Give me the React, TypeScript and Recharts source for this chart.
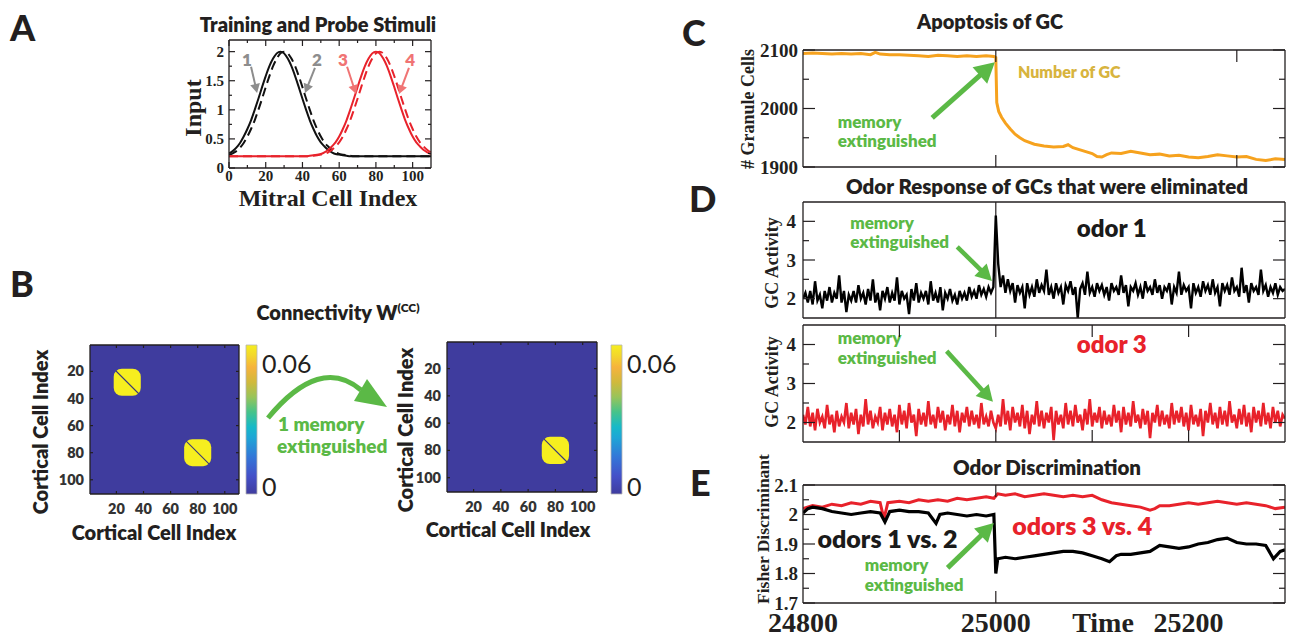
import React from 'react';
import {
  ComposedChart, BarChart, Bar, Line, Scatter, XAxis, YAxis, CartesianGrid,
  ReferenceLine, ReferenceArea, ReferenceDot,
} from 'recharts';

const SANS = 'Lato, "Open Sans", "DejaVu Sans", sans-serif';
const SERIF = '"Liberation Serif", "DejaVu Serif", serif';
const INK = '#231f20';
const GREEN = '#5bb946';
const RED = '#e8222b';
const ORANGE = '#f6a21e';
const GOLD = '#d8b43e';
const PINK = '#f07474';
const GREY = '#8d8d8d';
const PARULA_LOW = '#3f3c9e';
const PARULA_HIGH = '#f6ee1f';

// ---- A: training and probe stimuli
const mitralIndex = [0, 2, 4, 6, 8, 10, 12, 14, 16, 18, 20, 22, 24, 26, 28, 30, 32, 34, 36, 38, 40, 42, 44, 46, 48, 50, 52, 54, 56, 58, 60, 62, 64, 66, 68, 70, 72, 74, 76, 78, 80, 82, 84, 86, 88, 90, 92, 94, 96, 98, 100, 102, 104, 106, 108, 110];
const stimulus1 = [0.25, 0.29, 0.35, 0.43, 0.54, 0.67, 0.82, 1.0, 1.19, 1.39, 1.58, 1.75, 1.88, 1.97, 2.0, 1.97, 1.88, 1.75, 1.58, 1.39, 1.19, 1.0, 0.82, 0.67, 0.54, 0.44, 0.37, 0.31, 0.27, 0.24, 0.23, 0.22, 0.21,
  0.2, 0.2, 0.2, 0.2, 0.2, 0.2, 0.2, 0.2, 0.2, 0.2, 0.2, 0.2, 0.2, 0.2, 0.2, 0.2, 0.2, 0.2, 0.2, 0.2, 0.2, 0.2, 0.2];
const stimulus2 = [0.22, 0.25, 0.29, 0.35, 0.43, 0.54, 0.67, 0.82, 1.0, 1.19, 1.39, 1.58, 1.75, 1.88, 1.97, 2.0, 1.97, 1.88, 1.75, 1.58, 1.39, 1.19, 1.0, 0.82, 0.67, 0.54, 0.44, 0.37, 0.31, 0.27, 0.24, 0.23, 0.22, 0.21,
  0.2, 0.2, 0.2, 0.2, 0.2, 0.2, 0.2, 0.2, 0.2, 0.2, 0.2, 0.2, 0.2, 0.2, 0.2, 0.2, 0.2, 0.2, 0.2, 0.2, 0.2, 0.2];
const stimulus3 = [0.2, 0.2, 0.2, 0.2, 0.2, 0.2, 0.2, 0.2, 0.2, 0.2, 0.2, 0.2, 0.2, 0.2, 0.2, 0.2, 0.2, 0.2, 0.2, 0.2, 0.2, 0.2,
  0.21, 0.22, 0.23, 0.24, 0.27, 0.31, 0.37, 0.44, 0.54, 0.67, 0.82, 1.0, 1.19, 1.39, 1.58, 1.75, 1.88, 1.97, 2.0,
  1.97, 1.88, 1.75, 1.58, 1.39, 1.19, 1.0, 0.82, 0.67, 0.54, 0.44, 0.37, 0.31, 0.27, 0.24];
const stimulus4 = [0.2, 0.2, 0.2, 0.2, 0.2, 0.2, 0.2, 0.2, 0.2, 0.2, 0.2, 0.2, 0.2, 0.2, 0.2, 0.2, 0.2, 0.2, 0.2, 0.2, 0.2, 0.2, 0.2,
  0.21, 0.22, 0.23, 0.24, 0.27, 0.31, 0.37, 0.44, 0.54, 0.67, 0.82, 1.0, 1.19, 1.39, 1.58, 1.75, 1.88, 1.97, 2.0,
  1.97, 1.88, 1.75, 1.58, 1.39, 1.19, 1.0, 0.82, 0.67, 0.54, 0.44, 0.37, 0.31, 0.27];
const mitralTicks = [0, 10, 20, 30, 40, 50, 60, 70, 80, 90, 100];
const mitralMajor = [0, 20, 40, 60, 80, 100];
const inputTicks = [0, 0.25, 0.5, 0.75, 1, 1.25, 1.5, 1.75, 2];
const inputMajor = [0, 0.5, 1, 1.5, 2];

// ---- B: connectivity before / after
const cellTicks = [20, 40, 60, 80, 100];
const memoriesBefore = [28, 80];
const memoriesAfter = [80];
const memoryHalfWidth = 10;
const weightRange = [0, 0.06];

// ---- C: apoptosis
const apoptosisTime = [24800, 24810, 24820, 24830, 24840, 24850, 24860, 24870, 24875, 24880, 24890, 24900, 24910, 24920, 24930, 24940, 24950, 24960, 24970, 24980, 24990, 24998,
  25000, 25001, 25003, 25006, 25010, 25015, 25020, 25025, 25030, 25040, 25050, 25060, 25070, 25075, 25080, 25090, 25100, 25105, 25110, 25115, 25120, 25130, 25140, 25150,
  25160, 25170, 25180, 25190, 25200, 25210, 25220, 25230, 25240, 25250, 25260, 25270, 25280, 25290, 25300];
const granuleCount = [2094, 2095, 2094, 2093, 2094, 2093, 2094, 2092, 2096, 2093, 2092, 2092, 2091, 2090, 2089, 2091, 2090, 2089, 2090, 2089, 2090, 2089,
  2087, 2010, 1995, 1985, 1975, 1965, 1956, 1950, 1945, 1939, 1936, 1934, 1935, 1938, 1933, 1928, 1923, 1918, 1917, 1921, 1924, 1923, 1927, 1924,
  1921, 1922, 1919, 1920, 1917, 1916, 1918, 1921, 1919, 1917, 1918, 1913, 1911, 1914, 1913];
const timeDomain = [24800, 25300];

// ---- D: odor response of eliminated GCs (one sample every 2.5 time steps from 24800)
const responseStart = 24800;
const responseStep = 2.5;
const odor1Activity = [
  2.0, 2.15, 1.9, 2.2, 1.85, 2.45, 1.95, 2.1, 1.75, 2.2,
  1.95, 2.3, 1.9, 2.15, 2.0, 2.6, 1.9, 2.2, 1.65, 2.1,
  1.95, 2.2, 1.9, 2.35, 2.0, 2.15, 1.85, 2.25, 1.95, 2.5,
  1.9, 2.15, 1.7, 2.2, 2.0, 2.3, 1.9, 2.15, 1.95, 2.55,
  1.85, 2.2, 2.0, 2.1, 1.6, 2.25, 1.95, 2.4, 1.9, 2.15,
  2.0, 2.2, 1.85, 2.45, 1.95, 2.15, 1.9, 2.3, 1.7, 2.15,
  2.0, 2.25, 1.95, 2.1, 1.85, 2.2, 2.0, 2.15, 1.95, 2.3,
  2.05, 2.2, 2.0, 2.35, 2.1, 2.25, 2.05, 2.3, 2.15, 2.3,
  4.15,
  2.9, 2.3, 2.6, 2.15, 2.5, 2.2, 2.4, 1.9, 2.35, 2.15,
  2.3, 1.75, 2.4, 2.1, 2.3, 2.05, 2.5, 2.15, 2.35, 2.2,
  2.75, 2.1, 2.3, 2.0, 2.4, 2.15, 2.3, 1.85, 2.35, 2.2,
  2.45, 2.1, 2.3, 1.5, 2.25, 2.4, 2.1, 2.7, 2.15, 2.3,
  2.05, 2.4, 2.2, 2.35, 2.1, 2.3, 1.95, 2.4, 2.2, 2.3,
  2.1, 2.6, 2.15, 2.35, 1.8, 2.3, 2.2, 2.4, 2.1, 2.3,
  2.0, 2.45, 2.2, 2.3, 2.1, 2.5, 2.15, 2.35, 2.0, 2.3,
  2.2, 2.4, 1.85, 2.3, 2.15, 2.7, 2.1, 2.35, 2.2, 2.3,
  1.75, 2.4, 2.15, 2.3, 2.05, 2.45, 2.2, 2.35, 2.1, 2.5,
  2.15, 2.3, 1.8, 2.4, 2.2, 2.35, 2.1, 2.55, 2.2, 2.3,
  2.05, 2.8, 2.15, 2.35, 1.9, 2.4, 2.2, 2.3, 2.1, 2.75,
  2.2, 2.35, 2.05, 2.3, 2.15, 2.4, 2.1, 2.3, 2.2, 2.25];
const odor3Activity = [
  2.2, 1.95, 2.4, 1.9, 2.25, 1.8, 2.35, 2.0, 2.15, 1.85,
  2.45, 1.95, 2.2, 1.75, 2.3, 1.9, 2.15, 2.0, 2.5, 1.85,
  2.25, 1.95, 2.35, 1.7, 2.2, 1.9, 2.6, 1.95, 2.3, 1.85,
  2.15, 2.0, 2.4, 1.8, 2.25, 1.95, 2.35, 1.9, 2.2, 1.75,
  2.45, 1.95, 2.3, 1.85, 2.5, 2.0, 2.2, 1.65, 2.35, 1.95,
  2.25, 1.9, 2.55, 1.95, 2.2, 1.85, 2.4, 2.0, 2.3, 1.8,
  2.2, 1.95, 2.45, 1.9, 2.3, 1.75, 2.25, 2.0, 2.4, 1.9,
  2.3, 1.95, 2.2, 1.85, 2.5, 1.95, 2.15, 1.9, 2.3, 2.0,
  1.85,
  2.2, 1.9, 2.6, 1.95, 2.3, 1.8, 2.4, 2.0, 2.25, 1.9,
  2.45, 1.85, 2.3, 1.7, 2.2, 1.95, 2.55, 1.9, 2.3, 1.85,
  2.25, 2.0, 2.4, 1.55, 2.3, 1.95, 2.2, 1.85, 2.5, 1.95,
  2.3, 1.9, 2.45, 2.0, 2.2, 1.8, 2.35, 1.95, 2.6, 1.9,
  2.25, 2.0, 2.4, 1.85, 2.3, 1.95, 2.2, 1.9, 2.45, 2.0,
  2.3, 1.75, 2.4, 1.95, 2.25, 1.9, 2.55, 2.0, 2.2, 1.85,
  2.35, 1.95, 2.3, 1.6, 2.25, 2.0, 2.45, 1.9, 2.3, 1.95,
  2.2, 1.85, 2.5, 1.95, 2.3, 2.0, 2.4, 1.9, 2.25, 1.8,
  2.45, 1.95, 2.2, 1.9, 2.35, 1.65, 2.3, 2.0, 2.5, 1.95,
  2.25, 1.85, 2.4, 1.95, 2.3, 1.9, 2.55, 2.0, 2.2, 1.85,
  2.35, 1.95, 2.45, 1.9, 2.25, 1.75, 2.4, 2.0, 2.3, 1.9,
  2.5, 1.95, 2.25, 1.85, 2.4, 2.0, 2.3, 1.9, 2.2, 2.1];
const activityTicks = [2, 2.5, 3, 3.5, 4];
const activityMajor = [2, 3, 4];

// ---- E: odor discrimination
const fisherTime12 = [24800, 24805, 24810, 24820, 24830, 24840, 24850, 24860, 24870, 24880, 24885, 24890, 24900, 24910, 24920, 24930, 24938, 24942, 24950, 24960, 24970, 24980, 24990, 24998,
  25000, 25002, 25010, 25020, 25030, 25040, 25050, 25060, 25070, 25080, 25090, 25100, 25110, 25118, 25125, 25130, 25140, 25150, 25160, 25170, 25180, 25190, 25200,
  25210, 25220, 25230, 25240, 25250, 25260, 25270, 25280, 25288, 25295, 25300];
const fisher12 = [2.005, 2.02, 2.025, 2.02, 2.01, 2.005, 2.0, 2.005, 2.01, 2.005, 1.975, 2.01, 2.015, 2.01, 2.01, 2.005, 1.97, 2.0, 2.005, 2.0, 1.995, 2.0, 1.995, 2.0,
  1.8, 1.85, 1.855, 1.85, 1.855, 1.86, 1.865, 1.87, 1.875, 1.875, 1.87, 1.86, 1.85, 1.84, 1.86, 1.865, 1.865, 1.87, 1.875, 1.895, 1.89, 1.885, 1.89,
  1.9, 1.905, 1.915, 1.92, 1.905, 1.9, 1.9, 1.895, 1.85, 1.875, 1.88];
const fisherTime34 = [24800, 24810, 24820, 24830, 24840, 24850, 24860, 24870, 24880, 24884, 24888, 24900, 24910, 24920, 24930, 24940, 24950, 24960, 24970, 24980, 24990, 24998,
  25002, 25010, 25020, 25030, 25040, 25050, 25060, 25070, 25080, 25090, 25100, 25110, 25120, 25130, 25140, 25150, 25160, 25165, 25170, 25180, 25190, 25200,
  25210, 25220, 25230, 25240, 25250, 25260, 25270, 25280, 25290, 25300];
const fisher34 = [2.02, 2.03, 2.025, 2.035, 2.03, 2.04, 2.035, 2.045, 2.04, 1.985, 2.04, 2.045, 2.04, 2.05, 2.045, 2.05, 2.045, 2.055, 2.05, 2.055, 2.06, 2.055,
  2.07, 2.065, 2.07, 2.06, 2.065, 2.07, 2.065, 2.06, 2.065, 2.06, 2.065, 2.05, 2.04, 2.035, 2.03, 2.025, 2.015, 2.02, 2.03, 2.03, 2.035, 2.04,
  2.035, 2.04, 2.045, 2.04, 2.035, 2.04, 2.035, 2.03, 2.02, 2.025];
const fisherTicks = [1.7, 1.75, 1.8, 1.85, 1.9, 1.95, 2, 2.05, 2.1];
const fisherMajor = [1.7, 1.8, 1.9, 2, 2.1];
const timeLabels = [24800, 25000, 25200];

// ---------------------------------------------------------------
type Side = 'left' | 'right' | 'top' | 'bottom';
interface TickSpec {
  side: Side;
  major: number[];
  len: number;
  minorLen?: number;
  labels?: number[];
  fmt?: (v: number) => string;
  size?: number;
  family?: string;
  weight?: number;
  color?: string;
  gap?: number;
  dy?: (v: number) => number;
  bare?: number[];
}

function tickRenderer(s: TickSpec) {
  return (p: any) => {
    const x = Number(p.x);
    const y = Number(p.y);
    const v = Number(p.payload && p.payload.value);
    const isMajor = s.major.indexOf(v) >= 0;
    const L = s.bare && s.bare.indexOf(v) >= 0 ? 0 : isMajor ? s.len : s.minorLen || 0;
    const size = s.size || 14;
    const gap = s.gap ?? 5;
    let line: React.ReactNode = null;
    if (L > 0) {
      const d = s.side === 'left' ? [L, 0] : s.side === 'right' ? [-L, 0] : s.side === 'top' ? [0, L] : [0, -L];
      line = <line x1={x} y1={y} x2={x + d[0]} y2={y + d[1]} stroke={INK} strokeWidth={1.2} />;
    }
    let label: React.ReactNode = null;
    if (s.labels && s.labels.indexOf(v) >= 0) {
      const text = s.fmt ? s.fmt(v) : String(v);
      const extra = s.dy ? s.dy(v) : 0;
      const st = { fontFamily: s.family || SERIF, fontSize: size, fontWeight: s.weight ?? 700, fill: s.color || INK };
      if (s.side === 'left') label = <text x={x - gap} y={y + size * 0.35 + extra} textAnchor="end" {...st}>{text}</text>;
      else if (s.side === 'right') label = <text x={x + gap} y={y + size * 0.35 + extra} textAnchor="start" {...st}>{text}</text>;
      else if (s.side === 'bottom') label = <text x={x} y={y + gap + size * 0.72 + extra} textAnchor="middle" {...st}>{text}</text>;
    }
    return <g>{line}{label}</g>;
  };
}

const PAD = { l: 62, r: 12, t: 12, b: 42 };
const ZERO = { top: 0, right: 0, bottom: 0, left: 0 };

interface FrameSpec {
  xKey?: string;
  xDomain: number[];
  yDomain: number[];
  reversed?: boolean;
  xTicks: number[];
  xTicksTop?: number[];
  yTicks: number[];
  bottom: TickSpec;
  top: TickSpec;
  left: TickSpec;
  right: TickSpec;
  yKey?: string;
}

function frame(f: FrameSpec) {
  const axisLine = { stroke: INK, strokeWidth: 1.3 };
  return [
    <XAxis key="xb" type="number" dataKey={f.xKey} domain={f.xDomain} ticks={f.xTicks} tick={tickRenderer(f.bottom)}
      tickSize={0} tickMargin={0} tickLine={false} interval={0} allowDataOverflow axisLine={axisLine} height={PAD.b} />,
    <XAxis key="xt" xAxisId="top" orientation="top" type="number" dataKey={f.xKey} domain={f.xDomain} ticks={f.xTicksTop || f.xTicks}
      tick={tickRenderer(f.top)} tickSize={0} tickMargin={0} tickLine={false} interval={0} allowDataOverflow axisLine={axisLine} height={PAD.t} />,
    <YAxis key="yl" type="number" dataKey={f.yKey} domain={f.yDomain} reversed={f.reversed} ticks={f.yTicks} tick={tickRenderer(f.left)}
      tickSize={0} tickMargin={0} tickLine={false} interval={0} allowDataOverflow axisLine={axisLine} width={PAD.l} />,
    <YAxis key="yr" yAxisId="right" orientation="right" type="number" dataKey={f.yKey} domain={f.yDomain} reversed={f.reversed} ticks={f.yTicks}
      tick={tickRenderer(f.right)} tickSize={0} tickMargin={0} tickLine={false} interval={0} allowDataOverflow axisLine={axisLine} width={PAD.r} />,
  ];
}

type Box = { x: number; y: number; w: number; h: number };
function place(b: Box): React.CSSProperties {
  return { position: 'absolute', left: b.x - PAD.l, top: b.y - PAD.t };
}
const cw = (b: Box) => b.w + PAD.l + PAD.r;
const ch = (b: Box) => b.h + PAD.t + PAD.b;

function arrowShape(color: string, width: number, head: number) {
  return (p: any) => {
    const x1 = Number(p.x1), y1 = Number(p.y1), x2 = Number(p.x2), y2 = Number(p.y2);
    const dx = x2 - x1, dy = y2 - y1;
    const len = Math.hypot(dx, dy) || 1;
    const ux = dx / len, uy = dy / len;
    const bx = x2 - ux * head, by = y2 - uy * head;
    const hw = head * 0.55;
    const pts = `${x2},${y2} ${bx - uy * hw},${by + ux * hw} ${bx + uy * hw},${by - ux * hw}`;
    return (
      <g>
        <line x1={x1} y1={y1} x2={bx + ux * 2} y2={by + uy * 2} stroke={color} strokeWidth={width} />
        <polygon points={pts} fill={color} />
      </g>
    );
  };
}

function arrow(key: string, from: number[], to: number[], color: string, width: number, head: number) {
  return (
    <ReferenceLine key={key} segment={[{ x: from[0], y: from[1] }, { x: to[0], y: to[1] }]} ifOverflow="visible"
      shape={arrowShape(color, width, head)} />
  );
}

function note(key: string, x: number, y: number, text: string, size: number, color: string, dy = 0, anchor = 'start') {
  return (
    <ReferenceDot key={key} x={x} y={y} r={0} ifOverflow="visible"
      shape={(p: any) => (
        <text x={p.cx} y={Number(p.cy) + dy} textAnchor={anchor} fontFamily={SANS} fontSize={size} fontWeight={800} fill={color}>{text}</text>
      )} />
  );
}

// ---------------------------------------------------------------
const boxA: Box = { x: 229, y: 40, w: 202, h: 128 };
function PanelA() {
  const rows = mitralIndex.map((x, i) => ({ x, s1: stimulus1[i], s2: stimulus2[i], s3: stimulus3[i], s4: stimulus4[i] }));
  const sp = { major: inputMajor, len: 6, minorLen: 3 };
  const xp = { major: mitralMajor, len: 6, minorLen: 3 };
  return (
    <div style={place(boxA)}>
      <ComposedChart width={cw(boxA)} height={ch(boxA)} margin={ZERO} data={rows}>
        {frame({
          xKey: 'x', xDomain: [0, 110], yDomain: [0, 2.2], xTicks: mitralTicks, yTicks: inputTicks,
          bottom: { side: 'bottom', ...xp, labels: mitralMajor, size: 15, gap: 2 },
          top: { side: 'top', ...xp },
          left: { side: 'left', ...sp, labels: inputMajor, size: 15, gap: 5 },
          right: { side: 'right', ...sp },
        })}
        <Line dataKey="s1" type="monotone" stroke="#111" strokeWidth={2} dot={false} isAnimationActive={false} />
        <Line dataKey="s2" type="monotone" stroke="#111" strokeWidth={2} strokeDasharray="9 5" dot={false} isAnimationActive={false} />
        <Line dataKey="s3" type="monotone" stroke={RED} strokeWidth={2} dot={false} isAnimationActive={false} />
        <Line dataKey="s4" type="monotone" stroke={RED} strokeWidth={2} strokeDasharray="9 5" dot={false} isAnimationActive={false} />
        {arrow('a1', [12, 1.74], [15.3, 1.29], GREY, 2, 9)}
        {arrow('a2', [46.8, 1.72], [41.4, 1.29], GREY, 2, 9)}
        {arrow('a3', [64.3, 1.74], [69.2, 1.27], PINK, 2, 9)}
        {arrow('a4', [98, 1.72], [92.6, 1.27], PINK, 2, 9)}
        {note('n1', 9.8, 1.86, '1', 17, GREY, 6, 'middle')}
        {note('n2', 47.9, 1.86, '2', 17, GREY, 6, 'middle')}
        {note('n3', 62.1, 1.86, '3', 17, PINK, 6, 'middle')}
        {note('n4', 98.6, 1.86, '4', 17, PINK, 6, 'middle')}
      </ComposedChart>
    </div>
  );
}

function blobShape(p: any) {
  const w = Math.abs(Number(p.width)), h = Math.abs(Number(p.height));
  const x = Number(p.width) < 0 ? Number(p.x) + Number(p.width) : Number(p.x);
  const y = Number(p.height) < 0 ? Number(p.y) + Number(p.height) : Number(p.y);
  return <rect x={x} y={y} width={w} height={h} rx={w * 0.3} ry={h * 0.3} fill={PARULA_HIGH} />;
}

function Heatmap({ box, memories }: { box: Box; memories: number[] }) {
  const pts = memories.map((c) => ({ x: c, y: c }));
  const tk = { major: cellTicks, len: 3 };
  const lab = { labels: cellTicks, family: SANS, size: 14.5, color: '#333', weight: 800 };
  return (
    <div style={place(box)}>
      <ComposedChart width={cw(box)} height={ch(box)} margin={ZERO} data={pts}>
        <CartesianGrid horizontal={false} vertical={false} fill={PARULA_LOW} />
        {frame({
          xKey: 'x', yKey: 'y', xDomain: [0.5, 110.5], yDomain: [0.5, 110.5], reversed: true, xTicks: cellTicks, yTicks: cellTicks,
          bottom: { side: 'bottom', ...tk, ...lab, gap: 10 },
          top: { side: 'top', ...tk },
          left: { side: 'left', ...tk, ...lab, gap: 6 },
          right: { side: 'right', ...tk },
        })}
        {memories.map((c) => (
          <ReferenceArea key={'m' + c} x1={c - memoryHalfWidth} x2={c + memoryHalfWidth} y1={c - memoryHalfWidth} y2={c + memoryHalfWidth}
            ifOverflow="visible" shape={blobShape} />
        ))}
        {memories.map((c) => (
          <ReferenceLine key={'d' + c} segment={[{ x: c - 8.5, y: c - 8.5 }, { x: c + 8.5, y: c + 8.5 }]} stroke="#3a3878" strokeWidth={1.1} />
        ))}
        <Scatter dataKey="y" shape={() => <g />} isAnimationActive={false} />
      </ComposedChart>
    </div>
  );
}

const CB = { l: 10, r: 70, t: 10, b: 10 };
function Colorbar({ box, id }: { box: Box; id: string }) {
  const stops: [number, string][] = [
    [0, PARULA_LOW], [0.12, '#4450c8'], [0.25, '#3377d8'], [0.38, '#1ea6d6'], [0.45, '#17b9c8'], [0.55, '#46c38a'],
    [0.65, '#98c45a'], [0.75, '#d0b93c'], [0.85, '#f6b33c'], [0.93, '#f3d72c'], [1, PARULA_HIGH],
  ];
  return (
    <div style={{ position: 'absolute', left: box.x - CB.l, top: box.y - CB.t }}>
      <BarChart width={box.w + CB.l + CB.r} height={box.h + CB.t + CB.b} margin={{ top: CB.t, right: 0, bottom: CB.b, left: CB.l }}
        data={[{ k: 'w', v: weightRange[1] }]} barCategoryGap={0}>
        <defs>
          <linearGradient id={id} x1="0" y1="1" x2="0" y2="0">
            {stops.map(([o, c]) => <stop key={o} offset={o} stopColor={c} />)}
          </linearGradient>
        </defs>
        <XAxis dataKey="k" hide />
        <YAxis orientation="right" type="number" domain={weightRange} ticks={weightRange} width={CB.r} tickSize={0} tickMargin={0}
          tickLine={false} axisLine={false} interval={0}
          tick={tickRenderer({ side: 'right', major: [], len: 0, labels: weightRange, family: SANS, weight: 400, size: 25, gap: 5,
            dy: (v) => (v === 0 ? -7 : 19) })} />
        <Bar dataKey="v" fill={`url(#${id})`} stroke="#b5b5b5" strokeWidth={0.8} isAnimationActive={false} />
      </BarChart>
    </div>
  );
}

// ---------------------------------------------------------------
const boxC: Box = { x: 803, y: 50, w: 482, h: 117 };
function PanelC() {
  const rows = apoptosisTime.map((t, i) => ({ t, n: granuleCount[i] }));
  const yt = { major: [1900, 2000, 2100], len: 12, minorLen: 6 };
  const xt = { major: [25000, 25250], len: 12 };
  return (
    <div style={place(boxC)}>
      <ComposedChart width={cw(boxC)} height={ch(boxC)} margin={ZERO} data={rows}>
        {frame({
          xKey: 't', xDomain: timeDomain, yDomain: [1900, 2100], xTicks: [25000, 25250], yTicks: [1900, 1950, 2000, 2050, 2100],
          bottom: { side: 'bottom', ...xt }, top: { side: 'top', ...xt },
          left: { side: 'left', ...yt, labels: [1900, 2000, 2100], size: 19, gap: 5 }, right: { side: 'right', ...yt },
        })}
        <Line dataKey="n" type="linear" stroke={ORANGE} strokeWidth={3} dot={false} isAnimationActive={false} />
        {arrow('ca', [24934, 1984], [24999, 2079], GREEN, 5, 20)}
        {note('cm1', 24836, 1977, 'memory', 17, GREEN, 6)}
        {note('cm2', 24836, 1944, 'extinguished', 17, GREEN, 6)}
        {note('cn', 25023, 2062, 'Number of GC', 16, GOLD, 6)}
      </ComposedChart>
    </div>
  );
}

const boxD1: Box = { x: 803, y: 202, w: 482, h: 116 };
const boxD2: Box = { x: 803, y: 325, w: 482, h: 117 };
function PanelD({ box, which }: { box: Box; which: 1 | 3 }) {
  const values = which === 1 ? odor1Activity : odor3Activity;
  const rows = values.map((v, i) => ({ t: responseStart + i * responseStep, v }));
  const yt = { major: activityMajor, len: 12, minorLen: 6 };
  const xTicks = which === 1 ? [25000] : [24900, 25000, 25100, 25200];
  const xt = { major: xTicks, len: 12, bare: which === 1 ? [25000] : [] };
  return (
    <div style={place(box)}>
      <ComposedChart width={cw(box)} height={ch(box)} margin={ZERO} data={rows}>
        {frame({
          xKey: 't', xDomain: timeDomain, yDomain: [1.5, 4.5], xTicks, yTicks: activityTicks,
          bottom: { side: 'bottom', ...xt }, top: { side: 'top', ...xt },
          left: { side: 'left', ...yt, labels: activityMajor, size: 19, gap: 7 }, right: { side: 'right', ...yt },
        })}
        {which === 1 && <ReferenceLine x={25000} stroke={INK} strokeWidth={1.2} />}
        <Line dataKey="v" type="linear" stroke={which === 1 ? '#000' : RED} strokeWidth={which === 1 ? 2.4 : 2.6}
          strokeLinejoin="miter" dot={false} isAnimationActive={false} />
        {which === 1
          ? [
              note('d1m1', 24849, 3.96, 'memory', 17, GREEN, 6),
              note('d1m2', 24849, 3.47, 'extinguished', 17, GREEN, 6),
              arrow('d1a', [24960, 3.34], [24996, 2.46], GREEN, 4.5, 16),
              note('d1o', 25084, 3.8, 'odor 1', 24, '#1a1a1a', 8),
            ]
          : [
              note('d3m1', 24836, 4.17, 'memory', 17, GREEN, 6),
              note('d3m2', 24836, 3.65, 'extinguished', 17, GREEN, 6),
              arrow('d3a', [24949, 3.83], [24997, 2.53], GREEN, 4.5, 16),
              note('d3o', 25084, 3.99, 'odor 3', 24, RED, 8),
            ]}
      </ComposedChart>
    </div>
  );
}

const boxE: Box = { x: 803, y: 485, w: 482, h: 118 };
function PanelE() {
  const d12 = fisherTime12.map((t, i) => ({ t, f: fisher12[i] }));
  const d34 = fisherTime34.map((t, i) => ({ t, f: fisher34[i] }));
  const yt = { major: fisherMajor, len: 12, minorLen: 6 };
  return (
    <div style={place(boxE)}>
      <ComposedChart width={cw(boxE)} height={ch(boxE)} margin={ZERO}>
        {frame({
          xKey: 't', xDomain: timeDomain, yDomain: [1.7, 2.1], xTicks: timeLabels, xTicksTop: [25000], yTicks: fisherTicks,
          bottom: { side: 'bottom', major: [25000], len: 12, labels: timeLabels, size: 28, gap: 9 },
          top: { side: 'top', major: [25000], len: 12 },
          left: { side: 'left', ...yt, labels: fisherMajor, size: 19, gap: 5, fmt: (v) => (v === 2 ? '2' : v.toFixed(1)) },
          right: { side: 'right', ...yt },
        })}
        <Line data={d34} dataKey="f" type="linear" stroke={RED} strokeWidth={3} dot={false} isAnimationActive={false} />
        <Line data={d12} dataKey="f" type="linear" stroke="#000" strokeWidth={3.2} dot={false} isAnimationActive={false} />
        {note('e12', 24815, 1.914, 'odors 1 vs. 2', 25, '#1a1a1a', 8)}
        {note('e34', 25017, 1.958, 'odors 3 vs. 4', 25, RED, 8)}
        {note('em1', 24864, 1.829, 'memory', 17, GREEN, 6)}
        {note('em2', 24864, 1.761, 'extinguished', 17, GREEN, 6)}
        {arrow('ea', [24950, 1.819], [24998, 1.971], GREEN, 5, 18)}
      </ComposedChart>
    </div>
  );
}

// ---------------------------------------------------------------
function Overlay() {
  const letter = (t: string, x: number, y: number) => (
    <text x={x} y={y} fontFamily={SANS} fontWeight={900} fontSize={36} fill={INK}>{t}</text>
  );
  const title = (t: React.ReactNode, x: number, y: number, size = 20) => (
    <text x={x} y={y} textAnchor="middle" fontFamily={SANS} fontWeight={800} fontSize={size} fill={INK}>{t}</text>
  );
  const vtitle = (t: string, cx: number, cy: number, size: number, family: string) => (
    <text x={cx} y={cy} transform={`rotate(-90 ${cx} ${cy})`} textAnchor="middle" dominantBaseline="central"
      fontFamily={family} fontWeight={family === SANS ? 800 : 700} fontSize={size} fill={INK}>{t}</text>
  );
  return (
    <svg width={1290} height={638} style={{ position: 'absolute', left: 0, top: 0, pointerEvents: 'none' }}>
      {letter('A', 10, 41)}
      {letter('B', 10, 297)}
      {letter('C', 682, 46)}
      {letter('D', 689, 212)}
      {letter('E', 690, 496)}

      {title('Training and Probe Stimuli', 318, 32)}
      {title(<>Connectivity W<tspan fontSize={12} dy={-8}>(CC)</tspan></>, 338, 320)}
      {title('Apoptosis of GC', 990, 29)}
      {title('Odor Response of GCs that were eliminated', 1047, 194, 20.5)}
      {title('Odor Discrimination', 1047, 475, 20.5)}

      {vtitle('Input', 193, 108, 24, SERIF)}
      <text x={328} y={206} textAnchor="middle" fontFamily={SERIF} fontWeight={700} fontSize={24} fill={INK}>Mitral Cell Index</text>

      {vtitle('Cortical Cell Index', 40, 432, 20, SANS)}
      <text x={154} y={540} textAnchor="middle" fontFamily={SANS} fontWeight={800} fontSize={20} fill={INK}>Cortical Cell Index</text>
      {vtitle('Cortical Cell Index', 405, 430, 20, SANS)}
      <text x={508} y={537} textAnchor="middle" fontFamily={SANS} fontWeight={800} fontSize={20} fill={INK}>Cortical Cell Index</text>

      <path d="M268 418 Q 320 355 361 390" fill="none" stroke={GREEN} strokeWidth={5} />
      <polygon points="387,407 354,401 367,379" fill={GREEN} />
      <text x={278} y={431} fontFamily={SANS} fontWeight={800} fontSize={19} fill={GREEN}>1 memory</text>
      <text x={277} y={453} fontFamily={SANS} fontWeight={800} fontSize={19} fill={GREEN}>extinguished</text>

      {vtitle('# Granule Cells', 748, 109, 18, SERIF)}
      {vtitle('GC Activity', 772, 263, 18, SERIF)}
      {vtitle('GC Activity', 772, 382, 18, SERIF)}
      {vtitle('Fisher Discriminant', 763, 529, 17.5, SERIF)}
      <text x={1103} y={632} textAnchor="middle" fontFamily={SERIF} fontWeight={700} fontSize={28} fill={INK}>Time</text>
    </svg>
  );
}

export default function App() {
  return (
    <div style={{ position: 'absolute', left: 0, top: 0, width: 1290, height: 638, overflow: 'hidden', background: '#fff' }}>
      <PanelA />
      <Heatmap box={{ x: 90, y: 345, w: 149, h: 149 }} memories={memoriesBefore} />
      <Colorbar box={{ x: 246, y: 345, w: 11, h: 149 }} id="parulaLeft" />
      <Heatmap box={{ x: 447, y: 342, w: 150, h: 150 }} memories={memoriesAfter} />
      <Colorbar box={{ x: 611, y: 345, w: 11, h: 149 }} id="parulaRight" />
      <PanelC />
      <PanelD box={boxD1} which={1} />
      <PanelD box={boxD2} which={3} />
      <PanelE />
      <Overlay />
    </div>
  );
}
